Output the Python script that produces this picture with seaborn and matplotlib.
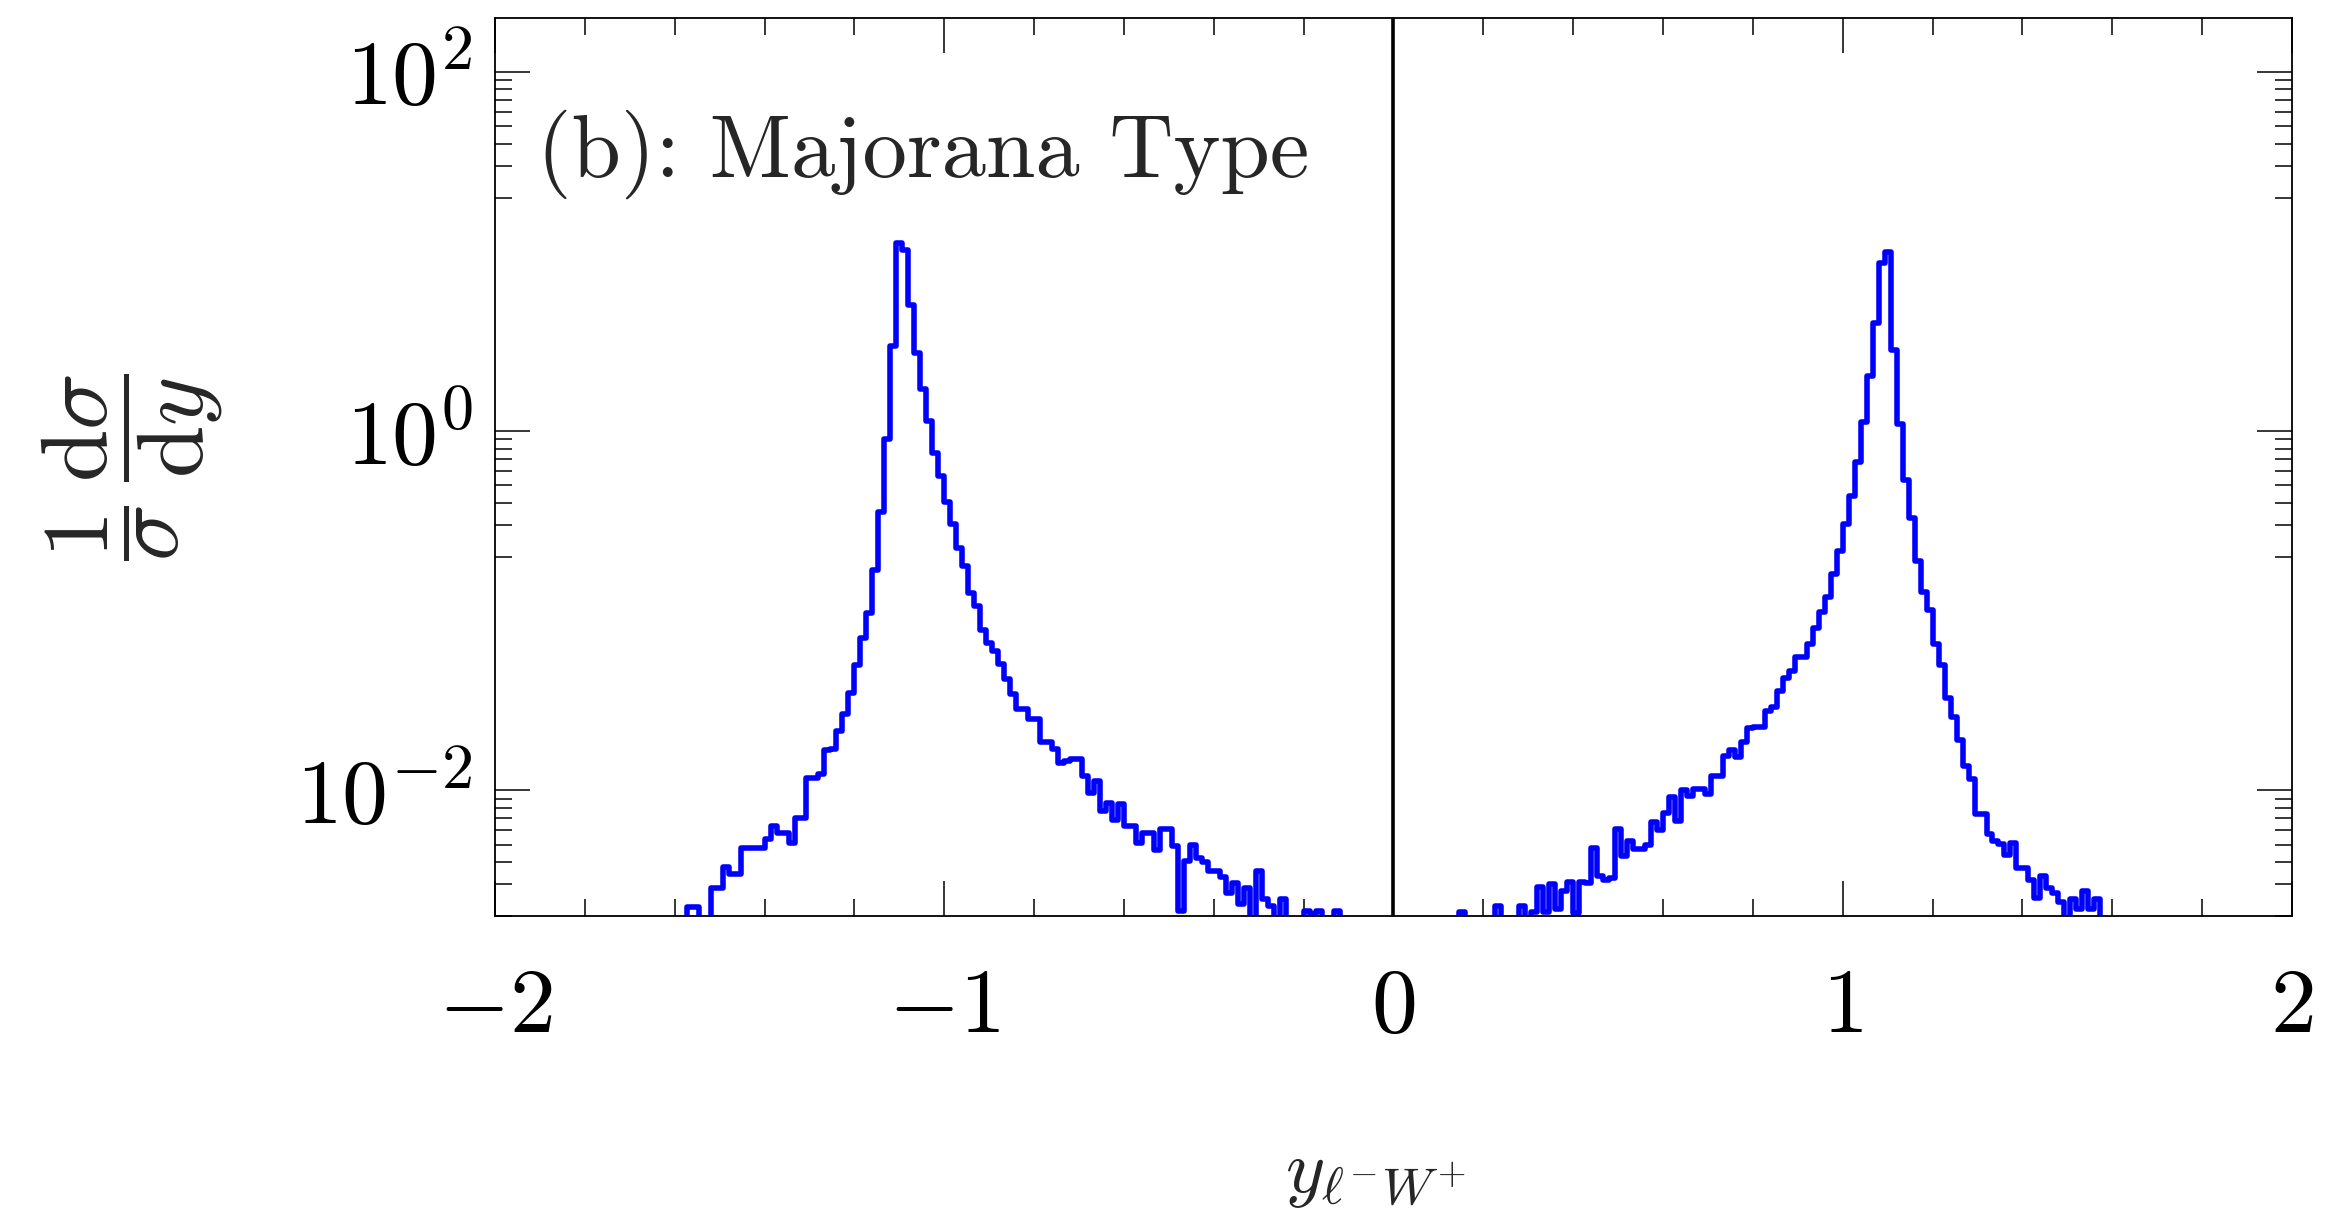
import numpy as np
import pandas as pd
import matplotlib
matplotlib.use("Agg")
import matplotlib.pyplot as plt
import seaborn as sns
from matplotlib.ticker import FixedLocator, FuncFormatter, MultipleLocator

# ---------------- data ----------------
n_bins = 300
x_min, x_max = -2.0, 2.0

# normalised distribution (1/sigma dsigma/dy) per bin, left branch starts at bin 32
left_first_bin = 32
left_branch = [
    0.00224, 0.00224, 0, 0, 0.00286, 0.00286, 0.00377, 0.00343, 0.00343, 0.00476,
    0.00476, 0.00476, 0.00480, 0.00536, 0.00635, 0.00583, 0.00583, 0.00509, 0.00706, 0.00706,
    0.0118, 0.0118, 0.0123, 0.0169, 0.0170, 0.0213, 0.0267, 0.0348, 0.0501, 0.0705,
    0.0973, 0.168, 0.355, 0.908, 2.99, 11.2, 10.2, 5.03, 2.74, 1.71,
    1.14, 0.760, 0.562, 0.405, 0.303, 0.224, 0.178, 0.126, 0.106, 0.0785,
    0.0661, 0.0596, 0.0507, 0.0417, 0.0344, 0.0283, 0.0283, 0.0249, 0.0249, 0.0185,
    0.0185, 0.0170, 0.0143, 0.0145, 0.0150, 0.0150, 0.0120, 0.00972, 0.0113, 0.00768,
    0.00854, 0.00689, 0.00837, 0.00633, 0.00633, 0.00511, 0.00581, 0.00581, 0.00469, 0.00607,
    0.00607, 0.00489, 0.00212, 0.00403, 0.00500, 0.0042, 0.0040, 0.00356, 0.00356, 0.0033,
    0.00270, 0.00307, 0.00233, 0.00288, 0, 0.00356, 0.00248, 0.00228, 0, 0.0025,
    0, 0, 0, 0.00214, 0.00205, 0.00214, 0, 0, 0.00214,
]

# right branch starts at bin 161
right_first_bin = 161
right_branch = [
    0.00211, 0, 0, 0, 0, 0, 0.00226, 0, 0, 0,
    0.00226, 0, 0.0021, 0.00291, 0.0021, 0.00300, 0.0022, 0.00275, 0.00309, 0.00209,
    0.00309, 0.00307, 0.00480, 0.00334, 0.00317, 0.00327, 0.00611, 0.00431, 0.00523, 0.00475,
    0.0047, 0.0050, 0.0067, 0.00606, 0.00750, 0.0092, 0.00675, 0.0101, 0.0093, 0.0102,
    0.0102, 0.0096, 0.0120, 0.0121, 0.0155, 0.0167, 0.0153, 0.0185, 0.0222, 0.0226,
    0.0226, 0.0276, 0.0290, 0.0357, 0.0425, 0.0464, 0.0551, 0.0551, 0.0655, 0.0800,
    0.0980, 0.120, 0.160, 0.216, 0.304, 0.437, 0.671, 1.13, 2.03, 4.00,
    8.69, 10.0, 2.83, 1.10, 0.535, 0.327, 0.190, 0.128, 0.101, 0.0655,
    0.0500, 0.0328, 0.0256, 0.0192, 0.0136, 0.0116, 0.00735, 0.00735, 0.00575, 0.00520,
    0.00506, 0.00438, 0.00512, 0.00369, 0.00369, 0.00319, 0.00251, 0.00334, 0.00288, 0.00269,
    0.00239, 0, 0.0025, 0.0022, 0.00277, 0.0022, 0.0025,
]

x_ticks = [-2, -1, 0, 1, 2]
y_major_ticks = [1e-2, 1e0, 1e2]
y_limits = (2e-3, 2e2)
panel_label = "(b): Majorana Type"
x_label = r"$y_{\ell^{-}W^{+}}$"
y_label = r"$\dfrac{1}{\sigma}\,\dfrac{\mathrm{d}\sigma}{\mathrm{d}y}$"

# ---------------- assemble the table ----------------
edges = np.linspace(x_min, x_max, n_bins + 1)
centers = 0.5 * (edges[:-1] + edges[1:])
density = np.zeros(n_bins)
density[left_first_bin:left_first_bin + len(left_branch)] = left_branch
density[right_first_bin:right_first_bin + len(right_branch)] = right_branch
df = pd.DataFrame({"y": centers, "density": density})

# ---------------- style ----------------
sns.set_style("ticks")
plt.rcParams.update({
    "font.family": ["cmr10", "DejaVu Serif"],
    "mathtext.fontset": "cm",
    "axes.unicode_minus": False,
    "axes.formatter.use_mathtext": True,
    "axes.linewidth": 1.3,
    "axes.edgecolor": "black",
})

TICK_FS = 66
fig = plt.figure(figsize=(23.51, 12.19), dpi=100)
ax = fig.add_axes([0.21055, 0.24856, 0.76435, 0.73667])

sns.histplot(data=df, x="y", weights="density", bins=list(edges), element="step",
             fill=False, color="#0000ff", linewidth=4.0, ax=ax)
ax.set_yscale("log")
ax.set_xlim(x_min, x_max)
ax.set_ylim(*y_limits)

ax.axvline(0, color="black", linewidth=2.6, zorder=3)

# ticks
ax.xaxis.set_major_locator(FixedLocator(x_ticks))
ax.xaxis.set_minor_locator(MultipleLocator(0.2))
ax.xaxis.set_major_formatter(FuncFormatter(lambda v, p: rf"${v:.0f}$"))
ax.yaxis.set_major_locator(FixedLocator(y_major_ticks))
ax.yaxis.set_minor_locator(FixedLocator([m * 10.0 ** e for e in (-3, -1, 1) for m in range(2, 10)]))
ax.yaxis.set_major_formatter(FuncFormatter(lambda v, p: rf"$10^{{{int(round(np.log10(v)))}}}$"))
ax.yaxis.set_minor_formatter(FuncFormatter(lambda v, p: ""))

ax.tick_params(which="both", direction="in", top=True, right=True, colors="black", width=1.1)
ax.tick_params(which="major", length=25, labelsize=TICK_FS)
ax.tick_params(which="minor", length=12.5)
ax.tick_params(axis="x", which="major", pad=38)
ax.tick_params(axis="y", which="major", pad=16)

for s in ax.spines.values():
    s.set_visible(True)
    s.set_linewidth(1.3)
    s.set_color("black")

ax.set_xlabel(x_label, fontsize=54)
ax.xaxis.set_label_coords(0.49, -0.252)
ax.set_ylabel(y_label, fontsize=68, rotation=90)
ax.yaxis.set_label_coords(-0.150, 0.5)

ax.text(0.0234, 0.823, panel_label, transform=ax.transAxes, fontsize=64,
        ha="left", va="baseline", family=["cmr10", "DejaVu Serif"])

fig.savefig("out.png", dpi=100)
